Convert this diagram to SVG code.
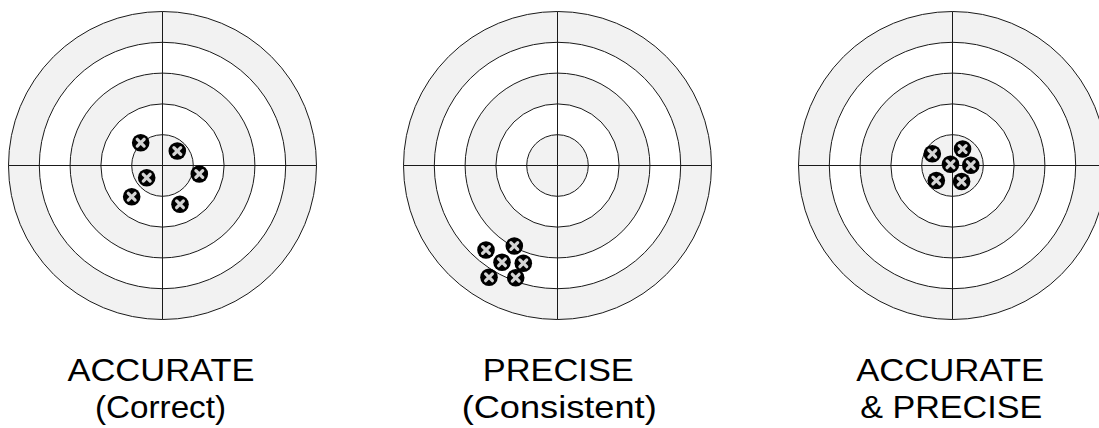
<svg xmlns="http://www.w3.org/2000/svg" xmlns:xlink="http://www.w3.org/1999/xlink" width="1099" height="428" viewBox="0 0 1099 428">
<style>
.ring{stroke:#1a1a1a;stroke-width:1}
.g{fill:#f2f2f2}
.w{fill:#ffffff}
.axis{stroke:#1a1a1a;stroke-width:1}
.hole{fill:#000}
.x{stroke:#d4d4d4;stroke-width:3.2;stroke-linecap:round}
.lbl{font-family:"Liberation Sans",Arial,sans-serif;font-size:32px;fill:#000;text-anchor:middle}
</style>
<defs>
<g id="target">
<circle class="ring g" r="154"/>
<circle class="ring w" r="123.2"/>
<circle class="ring g" r="92.4"/>
<circle class="ring w" r="61.6"/>
<circle class="ring g" r="30.8"/>
<line class="axis" x1="-154" y1="0" x2="154" y2="0"/>
<line class="axis" x1="0" y1="-154" x2="0" y2="154"/>
</g>
<g id="shot">
<circle class="hole" r="8.8"/>
<line class="x" x1="-3.4" y1="-3.4" x2="3.4" y2="3.4"/>
<line class="x" x1="-3.4" y1="3.4" x2="3.4" y2="-3.4"/>
</g>
</defs>
<rect width="1099" height="428" fill="#fff"/>
<g id="target-accurate">
<use xlink:href="#target" href="#target" x="162.5" y="165.5"/>
<use href="#shot" xlink:href="#shot" x="140.7" y="142.7"/>
<use href="#shot" xlink:href="#shot" x="177.3" y="151"/>
<use href="#shot" xlink:href="#shot" x="199.3" y="174"/>
<use href="#shot" xlink:href="#shot" x="146.7" y="177.7"/>
<use href="#shot" xlink:href="#shot" x="131.7" y="196.7"/>
<use href="#shot" xlink:href="#shot" x="180" y="204.3"/>
<text class="lbl" x="161" y="381" textLength="187" lengthAdjust="spacingAndGlyphs">ACCURATE</text>
<text class="lbl" x="160.5" y="418" textLength="131" lengthAdjust="spacingAndGlyphs">(Correct)</text>
</g>
<g id="target-precise">
<use xlink:href="#target" href="#target" x="557.5" y="165.5"/>
<use href="#shot" xlink:href="#shot" x="486" y="250"/>
<use href="#shot" xlink:href="#shot" x="514.3" y="246"/>
<use href="#shot" xlink:href="#shot" x="502" y="262.3"/>
<use href="#shot" xlink:href="#shot" x="523.3" y="263.3"/>
<use href="#shot" xlink:href="#shot" x="489" y="277.3"/>
<use href="#shot" xlink:href="#shot" x="515.7" y="277.7"/>
<text class="lbl" x="558.3" y="381" textLength="151" lengthAdjust="spacingAndGlyphs">PRECISE</text>
<text class="lbl" x="559.2" y="418" textLength="195" lengthAdjust="spacingAndGlyphs">(Consistent)</text>
</g>
<g id="target-both">
<use xlink:href="#target" href="#target" x="952.5" y="165.5"/>
<use href="#shot" xlink:href="#shot" x="932.3" y="153.7"/>
<use href="#shot" xlink:href="#shot" x="962.6" y="149"/>
<use href="#shot" xlink:href="#shot" x="950.5" y="164.3"/>
<use href="#shot" xlink:href="#shot" x="970.8" y="165.2"/>
<use href="#shot" xlink:href="#shot" x="936.3" y="180.5"/>
<use href="#shot" xlink:href="#shot" x="961.6" y="181.5"/>
<text class="lbl" x="950.2" y="381" textLength="188" lengthAdjust="spacingAndGlyphs">ACCURATE</text>
<text class="lbl" x="951.2" y="418" textLength="182" lengthAdjust="spacingAndGlyphs">&amp; PRECISE</text>
</g>
<g id="connectors"/>
</svg>
